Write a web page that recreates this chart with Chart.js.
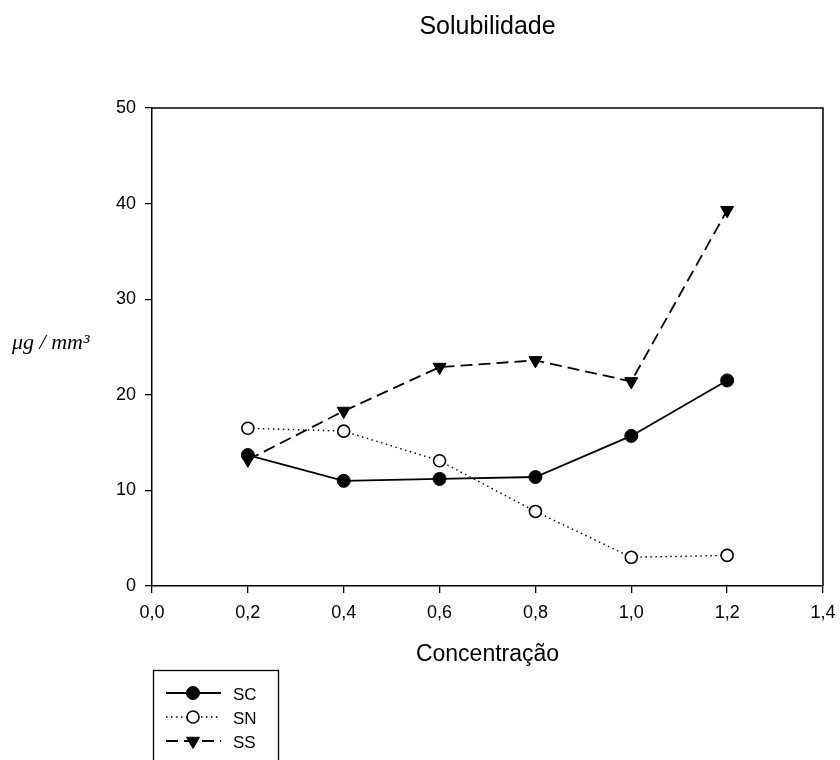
<!DOCTYPE html>
<html lang="pt">
<head>
  <meta charset="UTF-8" />
  <title>Solubilidade</title>
  <script src="https://cdn.jsdelivr.net/npm/chart.js"></script>
  <style>
    body { margin: 0; background: #fff; }
    #wrap { width: 840px; height: 760px; }
  </style>
</head>
<body>
  <div id="wrap"><canvas id="solChart" width="840" height="760"></canvas></div>
  <script>
    // Concentrations and measured solubility (ug/mm3) per group
    const concentracoes = [0.2, 0.4, 0.6, 0.8, 1.0, 1.2];
    const valoresSC = [13.7, 11.0, 11.2, 11.4, 15.7, 21.5];
    const valoresSN = [16.5, 16.2, 13.1, 7.8, 3.0, 3.2];
    const valoresSS = [13.2, 18.3, 22.9, 23.6, 21.4, 39.3];
    const seriesNomes = ["SC", "SN", "SS"];
    const xTicks = [0, 0.2, 0.4, 0.6, 0.8, 1.0, 1.2, 1.4];
    const yTicks = [0, 10, 20, 30, 40, 50];

    const FONT = "'Liberation Sans', Arial, sans-serif";

    function pontos(vals) {
      return concentracoes.map((c, i) => ({ x: c, y: vals[i] }));
    }

    // Frame, titles, y label and legend are drawn by hand
    const extras = {
      id: "extras",
      afterDraw(chart) {
        const ctx = chart.ctx;
        const a = chart.chartArea;
        const cx = (a.left + a.right) / 2;
        ctx.save();
        ctx.strokeStyle = "#000";
        ctx.lineWidth = 1.5;
        ctx.beginPath();
        ctx.moveTo(a.left, a.top);
        ctx.lineTo(a.right, a.top);
        ctx.lineTo(a.right, a.bottom);
        ctx.stroke();

        ctx.fillStyle = "#000";
        ctx.textAlign = "center";
        ctx.textBaseline = "alphabetic";
        ctx.font = "25px " + FONT;
        ctx.fillText("Solubilidade", cx, 34);

        ctx.font = "23px " + FONT;
        ctx.fillText("Concentração", cx, 661);

        ctx.font = "italic 22px 'Liberation Serif', 'Times New Roman', serif";
        ctx.textAlign = "left";
        ctx.fillText("\u03bcg / mm\u00b3", 12, 349);

        // legend box
        ctx.lineWidth = 1.3;
        ctx.strokeRect(153.5, 670.5, 125, 100);
        chart.data.datasets.forEach((ds, i) => {
          const y = 693 + i * 24;
          ctx.save();
          ctx.strokeStyle = ds.borderColor;
          ctx.lineWidth = ds.borderWidth;
          ctx.setLineDash(ds.borderDash || []);
          ctx.beginPath();
          ctx.moveTo(166, y);
          ctx.lineTo(221, y);
          ctx.stroke();
          ctx.restore();
          ctx.save();
          ctx.lineWidth = ds.pointBorderWidth;
          ctx.strokeStyle = ds.pointBorderColor;
          ctx.fillStyle = ds.pointBackgroundColor;
          Chart.helpers.drawPoint(ctx, {
            pointStyle: ds.pointStyle,
            rotation: ds.pointRotation || 0,
            radius: ds.pointRadius,
            borderWidth: ds.pointBorderWidth
          }, 193, y);
          ctx.restore();
          ctx.fillStyle = "#000";
          ctx.font = "17px " + FONT;
          ctx.textAlign = "left";
          ctx.fillText(seriesNomes[i], 233, y + 7);
        });
        ctx.restore();
      }
    };

    new Chart(document.getElementById("solChart"), {
      type: "line",
      data: {
        datasets: [
          {
            label: seriesNomes[0],
            data: pontos(valoresSC),
            borderColor: "#000",
            borderWidth: 1.8,
            pointStyle: "circle",
            pointRadius: 6.5,
            pointBackgroundColor: "#000",
            pointBorderColor: "#000",
            pointBorderWidth: 1
          },
          {
            label: seriesNomes[1],
            data: pontos(valoresSN),
            borderColor: "#000",
            borderWidth: 1.4,
            borderDash: [1.5, 3.5],
            pointStyle: "circle",
            pointRadius: 6,
            pointBackgroundColor: "#fff",
            pointBorderColor: "#000",
            pointBorderWidth: 1.6
          },
          {
            label: seriesNomes[2],
            data: pontos(valoresSS),
            borderColor: "#000",
            borderWidth: 1.8,
            borderDash: [12, 6],
            pointStyle: "triangle",
            pointRotation: 180,
            pointRadius: 7.5,
            pointBackgroundColor: "#000",
            pointBorderColor: "#000",
            pointBorderWidth: 1
          }
        ]
      },
      options: {
        responsive: false,
        animation: false,
        layout: { padding: { top: 108, right: 17, bottom: 0, left: 0 } },
        plugins: {
          legend: { display: false },
          title: { display: false },
          tooltip: { enabled: false }
        },
        scales: {
          x: {
            type: "linear",
            min: 0,
            max: 1.4,
            afterBuildTicks: s => { s.ticks = xTicks.map(v => ({ value: v })); },
            afterFit: s => {
              s.height = 174;
              // let the last label run into the page margin
              s.paddingLeft = 0;
              s.paddingRight = 0;
            },
            border: { display: true, color: "#000", width: 1.5 },
            grid: { drawOnChartArea: false, color: "#000", tickLength: 7, lineWidth: 1.3 },
            ticks: {
              color: "#000",
              font: { family: FONT, size: 18 },
              padding: 9,
              maxRotation: 0,
              callback: v => v.toFixed(1).replace(".", ",")
            }
          },
          y: {
            min: 0,
            max: 50,
            afterBuildTicks: s => { s.ticks = yTicks.map(v => ({ value: v })); },
            afterFit: s => { s.width = 152; },
            border: { display: true, color: "#000", width: 1.5 },
            grid: { drawOnChartArea: false, color: "#000", tickLength: 7, lineWidth: 1.3 },
            ticks: {
              color: "#000",
              font: { family: FONT, size: 18 },
              padding: 9
            }
          }
        }
      },
      plugins: [extras]
    });
  </script>
</body>
</html>
